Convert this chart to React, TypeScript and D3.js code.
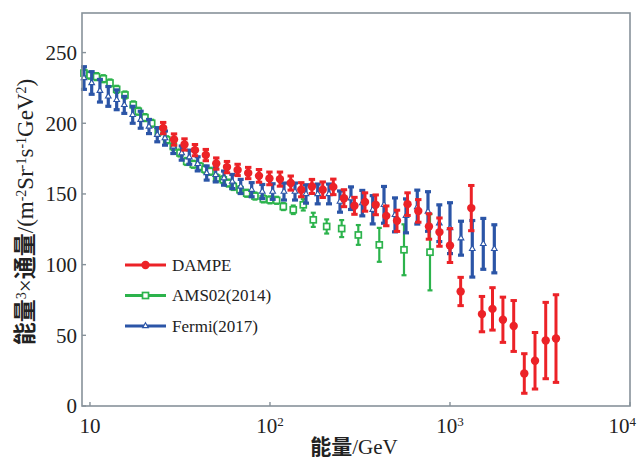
import React from 'react';
import * as d3 from 'd3';

// DAMPE
const dampeE = [25.5, 29.3, 33.5, 38.3, 44.0, 50.3, 57.7, 66.1, 75.7, 86.9, 99.3, 113.6, 130.4, 149.2, 171, 196.3, 224.8, 257.6, 294.6, 337.2, 386.6, 442.6, 507.7, 581, 666.5, 764, 874, 1000, 1146, 1313, 1505, 1722, 1968, 2259, 2587, 2967, 3402, 3880];
const dampeFlux = [196.6, 188.5, 185, 181, 177.5, 171.5, 169, 167, 164.8, 162.8, 161, 160.5, 157.7, 153, 155.3, 153, 155, 147, 141.6, 144.3, 142.3, 134.5, 131, 142.8, 138, 127, 123, 113.5, 81, 140, 65, 68.7, 61, 56.6, 23, 32, 46.3, 47.7];
const dampeErr = [4, 4, 4, 4, 4, 4, 4, 4, 4, 4.5, 4.5, 5, 5, 5, 5, 5.5, 5.5, 6, 6, 6.5, 7, 7, 7.5, 8, 8, 9, 10, 12, 10, 16, 12.5, 15, 16, 18, 14, 20, 27, 31];

// AMS02 (2014)
const amsE = [9.26, 10.0, 10.87, 11.86, 12.92, 14.07, 15.65, 17.4, 18.55, 20.21, 22.02, 23.96, 26.68, 29.03, 31.62, 34.45, 37.49, 40.84, 43.55, 46.42, 50.56, 55.04, 58.66, 62.54, 68.13, 74.23, 82.54, 91.8, 100, 108.9, 118.6, 134.7, 153.1, 174, 206.5, 250.2, 309.5, 404.8, 555.2, 774.3];
const amsFlux = [235.5, 234, 233, 231.5, 228.5, 224, 220, 213, 208.5, 204, 200, 194, 188.3, 183.6, 179, 173, 171, 169.4, 167.5, 166, 161.2, 160, 157.7, 155.3, 153, 150.5, 148.5, 146.5, 145.8, 145.5, 141.1, 138.8, 142.3, 131.7, 127, 125.5, 121, 114, 110.5, 108.8];
const amsErr = [2.5, 2.5, 2.5, 2.5, 2.5, 2.5, 2.5, 2.5, 2.5, 2.5, 2.5, 2.5, 2.5, 2.5, 2.5, 2.5, 2.5, 2.5, 2.5, 2.5, 2.5, 2.5, 2.5, 2.5, 2.5, 2.5, 2.5, 2.5, 2.5, 2.5, 2.5, 3, 4, 5, 5, 6, 7, 12, 18, 27];

// Fermi (2017)
const fermiE = [9.26, 10.22, 11.36, 12.64, 14.07, 15.51, 17.27, 19.13, 21.27, 23.65, 26.1, 29.03, 32.32, 35.62, 39.66, 44.49, 49.93, 55.53, 61.75, 68.76, 79.13, 90.6, 103.5, 119.6, 137.7, 158.5, 184.1, 212.7, 244.9, 281.8, 325.7, 372.1, 429.9, 494.9, 569.6, 658.1, 754.7, 872.1, 1000, 1151, 1330, 1531, 1763];
const fermiFlux = [232, 228.5, 223, 219, 216.6, 213, 206, 202.5, 197.7, 191.9, 189.5, 183.6, 178.9, 176, 171.3, 164.8, 163.5, 161.2, 158.8, 155.3, 153, 151.7, 151.7, 151.7, 151.7, 150, 150, 150, 144.6, 147, 143.5, 138.8, 142.3, 135.2, 134.5, 140.7, 137.6, 129.3, 125.8, 118.7, 111.2, 114.7, 111.2];
const fermiErr = [8, 8, 8, 7, 7, 6, 6, 6, 5, 5, 5, 5, 5, 5, 5, 5, 5, 5, 5, 5, 5, 5, 5.5, 6, 6, 6.5, 7, 7, 7.5, 8, 9, 10, 13, 12, 12, 12, 14, 13, 18, 12, 20, 18, 17];

const yTicks = [0, 50, 100, 150, 200, 250];
const xTicks = [10, 100, 1000, 10000];
const xTickExp = ['', '2', '3', '4'];

const RED = '#ec2227';
const GREEN = '#2cb34c';
const BLUE = '#2b55a7';
const AXIS = '#87929a';
const SERIF = 'Liberation Serif, Times New Roman, Noto Sans CJK SC, serif';

const x = d3.scaleLog().domain([9.03, 10000]).range([82, 630]);
const y = d3.scaleLinear().domain([0, 278]).range([406, 13]);
const tri = d3.symbol().type(d3.symbolTriangle).size(14);

function ErrorBars({ es, vs, errs, color, cap, width }) {
  return (
    <g stroke={color} strokeWidth={width} fill="none">
      {es.map((e, i) => {
        const cx = x(e);
        const y1 = y(vs[i] + errs[i]);
        const y2 = y(vs[i] - errs[i]);
        return (
          <g key={i}>
            <line x1={cx} x2={cx} y1={y1} y2={y2} />
            <line x1={cx - cap} x2={cx + cap} y1={y1} y2={y1} />
            <line x1={cx - cap} x2={cx + cap} y1={y2} y2={y2} />
          </g>
        );
      })}
    </g>
  );
}

function Marker({ kind, cx, cy }) {
  if (kind === 'circle') return <circle cx={cx} cy={cy} r={4.2} fill={RED} />;
  if (kind === 'square')
    return <rect x={cx - 3} y={cy - 3} width={6} height={6} fill="#fff" stroke={GREEN} strokeWidth={1.7} />;
  return <path d={tri()} transform={`translate(${cx},${cy})`} fill="#fff" stroke={BLUE} strokeWidth={1.1} />;
}

const series = [
  { name: 'AMS02(2014)', es: amsE, vs: amsFlux, errs: amsErr, color: GREEN, kind: 'square', cap: 2.5, width: 2.2 },
  { name: 'Fermi(2017)', es: fermiE, vs: fermiFlux, errs: fermiErr, color: BLUE, kind: 'tri', cap: 3, width: 3.2 },
  { name: 'DAMPE', es: dampeE, vs: dampeFlux, errs: dampeErr, color: RED, kind: 'circle', cap: 3.2, width: 3 },
];
const legendOrder = ['DAMPE', 'AMS02(2014)', 'Fermi(2017)'];

export default function App() {
  const x0 = 82, x1 = 630, yTop = 13, yBot = 406;
  const txt = { fontFamily: SERIF };
  return (
    <svg width={637} height={459} style={{ position: 'absolute', left: 0, top: 0, background: '#fff', fontFamily: SERIF }}>
      {/* data */}
      {series.map((s) => (
        <g key={s.name}>
          <ErrorBars {...s} />
          {s.es.map((e, i) => (
            <Marker key={i} kind={s.kind} cx={x(e)} cy={y(s.vs[i])} />
          ))}
        </g>
      ))}

      {/* frame */}
      <rect x={x0} y={yTop} width={x1 - x0} height={yBot - yTop} fill="none" stroke={AXIS} strokeWidth={1.6} />
      {yTicks.map((t) => (
        <g key={t}>
          <line x1={x0} x2={x0 + 4} y1={y(t)} y2={y(t)} stroke={AXIS} strokeWidth={1.4} />
          <text x={x0 - 5} y={y(t)} dy="0.35em" textAnchor="end" fontSize={21} fill="#222" style={txt}>{t}</text>
        </g>
      ))}
      {xTicks.map((t, i) => {
        const last = i === xTicks.length - 1;
        return (
          <g key={t}>
            <line x1={x(t)} x2={x(t)} y1={yBot} y2={yBot - 4} stroke={AXIS} strokeWidth={1.4} />
            <text x={last ? 636 : x(t)} y={433} textAnchor={last ? 'end' : 'middle'} fontSize={21} fill="#222" style={txt}>
              10{xTickExp[i] && <tspan baselineShift="super" fontSize={13}>{xTickExp[i]}</tspan>}
            </text>
          </g>
        );
      })}

      {/* axis titles */}
      <text x={354} y={454} textAnchor="middle" fontSize={21} fill="#222" style={txt}>
        <tspan fontWeight={600}>能量</tspan>/GeV
      </text>
      <text transform="translate(33,212) rotate(-90)" textAnchor="middle" fontSize={23} fill="#222" style={txt}>
        <tspan fontWeight={600}>能量</tspan>
        <tspan baselineShift="super" fontSize={14}>3</tspan>
        <tspan>×</tspan>
        <tspan fontWeight={600}>通量</tspan>
        <tspan>/(m</tspan>
        <tspan baselineShift="super" fontSize={14}>-2</tspan>
        <tspan>Sr</tspan>
        <tspan baselineShift="super" fontSize={14}>-1</tspan>
        <tspan>s</tspan>
        <tspan baselineShift="super" fontSize={14}>-1</tspan>
        <tspan>GeV</tspan>
        <tspan baselineShift="super" fontSize={14}>2</tspan>
        <tspan>)</tspan>
      </text>

      {/* legend */}
      {legendOrder.map((n, i) => {
        const s = series.find((d) => d.name === n);
        const ly = 265 + i * 30.5;
        return (
          <g key={n}>
            <line x1={125} x2={166} y1={ly} y2={ly} stroke={s.color} strokeWidth={3} />
            <Marker kind={s.kind} cx={145.5} cy={ly} />
            <text x={172} y={ly} dy="0.35em" fontSize={17} fill="#222" style={txt}>{n}</text>
          </g>
        );
      })}
    </svg>
  );
}
